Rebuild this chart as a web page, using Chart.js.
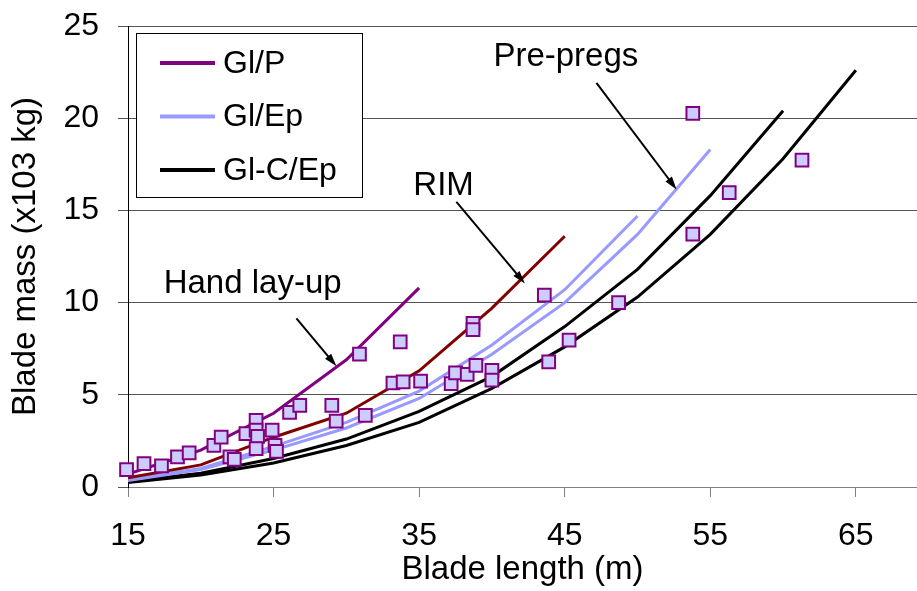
<!DOCTYPE html>
<html>
<head>
<meta charset="utf-8">
<script src="https://cdn.jsdelivr.net/npm/chart.js@4"></script>
<style>
  body { margin: 0; background: #fff; }
  canvas { display: block; }
</style>
</head>
<body>
<canvas id="bladeChart" width="917" height="591"></canvas>
<script>
// blade length steps used by the trend lines (m)
const lengthSteps = [15, 20, 25, 30, 35, 40, 45, 50, 55, 60, 65];

// trend lines, blade mass (x10^3 kg) at each length step
const glP = [0.7, 2.0, 4.0, 6.9, 10.8];
const rim = [0.5, 1.2, 2.7, 4.0, 6.3, 9.7, 13.6];
const glEpShort = [0.4, 1.0, 2.2, 3.5, 5.2, 7.7, 10.7, 14.7];
const glEpLong = [0.35, 0.95, 2.0, 3.2, 4.8, 7.2, 10.0, 13.7, 18.3];
const glCEpShort = [0.3, 0.75, 1.55, 2.6, 4.1, 6.0, 8.7, 11.8, 15.8, 20.4];
const glCEpLong = [0.25, 0.65, 1.3, 2.25, 3.5, 5.35, 7.6, 10.3, 13.7, 17.8, 22.6];

// measured blades
const bladeLength = [14.9, 16.1, 17.3, 18.4, 19.2, 20.9, 21.4, 22.0, 22.3, 23.1,
    23.8, 23.8, 23.9, 23.8, 24.9, 25.1, 25.2, 26.1, 26.8, 29.0,
    29.3, 30.9, 31.3, 33.7, 33.2, 33.9, 35.1, 37.2, 37.5, 38.3,
    38.9, 40.0, 40.0, 38.7, 38.7, 43.9, 45.3, 43.6, 48.7, 53.8,
    53.8, 56.3, 61.3];
const bladeMass = [0.94, 1.27, 1.14, 1.63, 1.85, 2.26, 2.71, 1.63, 1.5, 2.9,
    3.62, 3.08, 2.74, 2.08, 3.08, 2.26, 1.93, 4.05, 4.43, 4.43,
    3.57, 7.2, 3.89, 7.87, 5.64, 5.7, 5.74, 5.61, 6.19, 6.11,
    6.6, 6.33, 5.79, 8.87, 8.54, 6.78, 7.96, 10.4, 10.0, 13.71,
    20.26, 15.97, 17.73];

const xTicks = [15, 25, 35, 45, 55, 65];

const legendItems = [
    { label: 'Gl/P', color: '#800080' },
    { label: 'Gl/Ep', color: '#9999FF' },
    { label: 'Gl-C/Ep', color: '#000000' }
];

// process labels: text anchor and arrow start/tip, in data units
const notes = [
    { text: 'Pre-pregs', x: 40.1, y: 22.84, from: [47.18, 21.92], to: [52.68, 16.14] },
    { text: 'RIM', x: 34.6, y: 15.83, from: [37.56, 15.46], to: [42.26, 11.04] },
    { text: 'Hand lay-up', x: 17.45, y: 10.53, from: [26.57, 9.14], to: [29.32, 6.55] }
];

const FONT = '"Liberation Sans", Arial, sans-serif';

function toPoints(values) {
    return values.map((v, i) => ({ x: lengthSteps[i], y: v }));
}

function lineSet(label, values, color) {
    return {
        type: 'line',
        label: label,
        data: toPoints(values),
        borderColor: color,
        backgroundColor: color,
        borderWidth: 3,
        pointRadius: 0,
        tension: 0,
        fill: false,
        order: 2
    };
}

const boxLegend = {
    id: 'boxLegend',
    afterDatasetsDraw(chart) {
        const ctx = chart.ctx;
        const area = chart.chartArea;
        const left = area.left + 8, top = area.top + 7;
        ctx.save();
        ctx.fillStyle = '#fff';
        ctx.fillRect(left, top, 226, 164);
        ctx.strokeStyle = '#000';
        ctx.lineWidth = 1;
        ctx.strokeRect(left + 0.5, top + 0.5, 226, 164);
        ctx.font = '32px ' + FONT;
        ctx.textBaseline = 'middle';
        legendItems.forEach((item, i) => {
            const y = top + 30 + i * 53.5;
            ctx.strokeStyle = item.color;
            ctx.lineWidth = 4;
            ctx.beginPath();
            ctx.moveTo(left + 24, y);
            ctx.lineTo(left + 79, y);
            ctx.stroke();
            ctx.fillStyle = '#000';
            ctx.fillText(item.label, left + 87, y + 1);
        });
        ctx.restore();
    }
};

const notesPlugin = {
    id: 'notes',
    afterDatasetsDraw(chart) {
        const ctx = chart.ctx;
        const xs = chart.scales.x, ys = chart.scales.y;
        ctx.save();
        ctx.font = '33px ' + FONT;
        ctx.fillStyle = '#000';
        ctx.textBaseline = 'alphabetic';
        notes.forEach(n => {
            ctx.fillText(n.text, xs.getPixelForValue(n.x), ys.getPixelForValue(n.y));
            const x1 = xs.getPixelForValue(n.from[0]), y1 = ys.getPixelForValue(n.from[1]);
            const x2 = xs.getPixelForValue(n.to[0]), y2 = ys.getPixelForValue(n.to[1]);
            const ang = Math.atan2(y2 - y1, x2 - x1);
            ctx.strokeStyle = '#000';
            ctx.lineWidth = 2;
            ctx.beginPath();
            ctx.moveTo(x1, y1);
            ctx.lineTo(x2 - 8 * Math.cos(ang), y2 - 8 * Math.sin(ang));
            ctx.stroke();
            ctx.beginPath();
            ctx.moveTo(x2, y2);
            ctx.lineTo(x2 - 13 * Math.cos(ang) + 4 * Math.sin(ang), y2 - 13 * Math.sin(ang) - 4 * Math.cos(ang));
            ctx.lineTo(x2 - 13 * Math.cos(ang) - 4 * Math.sin(ang), y2 - 13 * Math.sin(ang) + 4 * Math.cos(ang));
            ctx.closePath();
            ctx.fill();
        });
        ctx.restore();
    }
};

new Chart(document.getElementById('bladeChart'), {
    type: 'scatter',
    data: {
        datasets: [
            {
                label: 'Blades',
                data: bladeLength.map((l, i) => ({ x: l, y: bladeMass[i] })),
                pointStyle: 'rect',
                pointRadius: 9,
                pointBorderWidth: 2,
                borderColor: '#800080',
                backgroundColor: '#CCCCFF',
                clip: false,
                order: 0
            },
            lineSet('Gl/P', glP, '#800080'),
            lineSet('RIM', rim, '#800000'),
            lineSet('Gl/Ep', glEpShort, '#9999FF'),
            lineSet('Gl/Ep', glEpLong, '#9999FF'),
            lineSet('Gl-C/Ep', glCEpShort, '#000000'),
            lineSet('Gl-C/Ep', glCEpLong, '#000000')
        ]
    },
    options: {
        responsive: false,
        devicePixelRatio: 1,
        animation: false,
        layout: { autoPadding: false, padding: { top: 26, right: 0, left: 0, bottom: 0 } },
        plugins: {
            legend: { display: false },
            tooltip: { enabled: false }
        },
        scales: {
            x: {
                type: 'linear',
                min: 15,
                max: 69.2,
                afterBuildTicks: scale => {
                    scale.ticks = xTicks.map(v => ({ value: v }));
                },
                afterFit: scale => {
                    scale.height = 104;
                    scale.paddingLeft = 0;
                    scale.paddingRight = 0;
                },
                grid: { drawOnChartArea: false, drawTicks: true, tickLength: 10, color: '#808080' },
                border: { color: '#808080', width: 1 },
                ticks: { font: { size: 32, family: FONT }, color: '#000', padding: 20, maxRotation: 0, autoSkip: false },
                title: {
                    display: true,
                    text: 'Blade length (m)',
                    font: { size: 33, family: FONT },
                    color: '#000',
                    padding: { top: 0, bottom: 1 }
                }
            },
            y: {
                min: 0,
                max: 25,
                afterFit: scale => {
                    scale.width = 128;
                    scale.paddingTop = 0;
                    scale.paddingBottom = 0;
                },
                grid: { color: '#555', tickLength: 10 },
                border: { color: '#000', width: 1 },
                ticks: { stepSize: 5, font: { size: 32, family: FONT }, color: '#000', padding: 19 },
                title: {
                    display: true,
                    text: 'Blade mass (x103 kg)',
                    font: { size: 33, family: FONT },
                    color: '#000',
                    padding: { top: 6, bottom: 0 }
                }
            }
        }
    },
    plugins: [boxLegend, notesPlugin]
});
</script>
</body>
</html>
